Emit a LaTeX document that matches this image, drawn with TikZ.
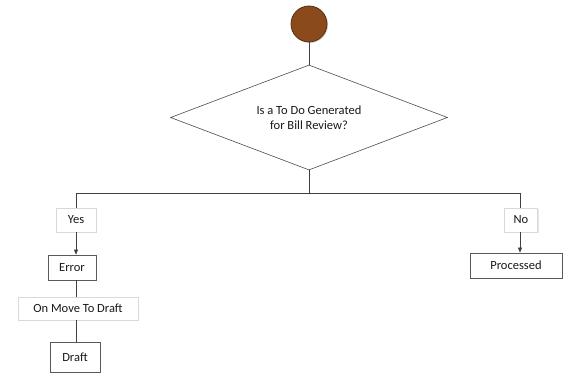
\documentclass[tikz,border=0pt]{standalone}
\usepackage{fontspec}
\setmainfont{Carlito}
\usetikzlibrary{arrows.meta,shadows,shapes.geometric}
\definecolor{brownfill}{HTML}{8B4A1C}
\definecolor{browndark}{HTML}{5A2E0E}
\tikzset{
  every node/.style={font=\fontsize{12.5}{15}\selectfont, text=black!90},
  line/.style={draw=black!75, line width=0.7pt},
  arr/.style={line, -{Triangle[length=5pt,width=4pt]}},
  state/.style={draw=black!65, fill=white, line width=0.7pt, minimum height=25pt, inner xsep=4pt,
     drop shadow={shadow xshift=1.2pt, shadow yshift=-1.2pt, opacity=0.35}},
  lbl/.style={draw=black!15, fill=white, minimum height=24pt, inner xsep=4pt,
     drop shadow={shadow xshift=1pt, shadow yshift=-1pt, opacity=0.2}},
}
\begin{document}
\begin{tikzpicture}[x=1pt,y=-1pt]
\useasboundingbox (0,0) rectangle (563,374);
\node[circle, draw=browndark, fill=brownfill, line width=0.8pt, minimum size=36pt, inner sep=0pt,
  drop shadow={shadow xshift=1pt, shadow yshift=-1pt, opacity=0.3}] (start) at (309,24) {};
\node[diamond, draw=black!70, fill=white, line width=0.6pt, aspect=2.65, inner sep=0pt,
  minimum width=277pt, minimum height=105pt, align=center] (dec) at (309,117.5)
  {Is a To Do Generated\\for Bill Review?};
\coordinate (j) at (309,193);
\coordinate (jl) at (76,193);
\coordinate (jr) at (520,193);
\node[lbl, minimum width=40pt] (yes) at (76,220) {Yes};
\node[lbl, minimum width=33pt] (no) at (521,220) {No};
\node[state, minimum width=48pt] (error) at (72,267.5) {Error};
\node[lbl, minimum width=120pt, minimum height=23pt] (move) at (78,308.5) {On Move To Draft};
\node[state, minimum width=50pt, minimum height=30pt] (draft) at (75,357) {Draft};
\node[state, minimum width=92pt] (proc) at (516,265.5) {Processed};

\draw[line] (start) -- (dec.north);
\draw[line] (dec.south) -- (j);
\draw[line] (jl) -- (jr);
\draw[line] (jl) -- (yes.north -| jl);
\draw[line] (jr) -- (no.north -| jr);
\draw[arr] (yes.south -| jl) -- (error.north -| jl);
\draw[arr] (no.south -| jr) -- (proc.north -| jr);
\draw[line] (error.south -| jl) -- (move.north -| jl);
\draw[line] (move.south -| jl) -- (draft.north -| jl);
\end{tikzpicture}
\end{document}
